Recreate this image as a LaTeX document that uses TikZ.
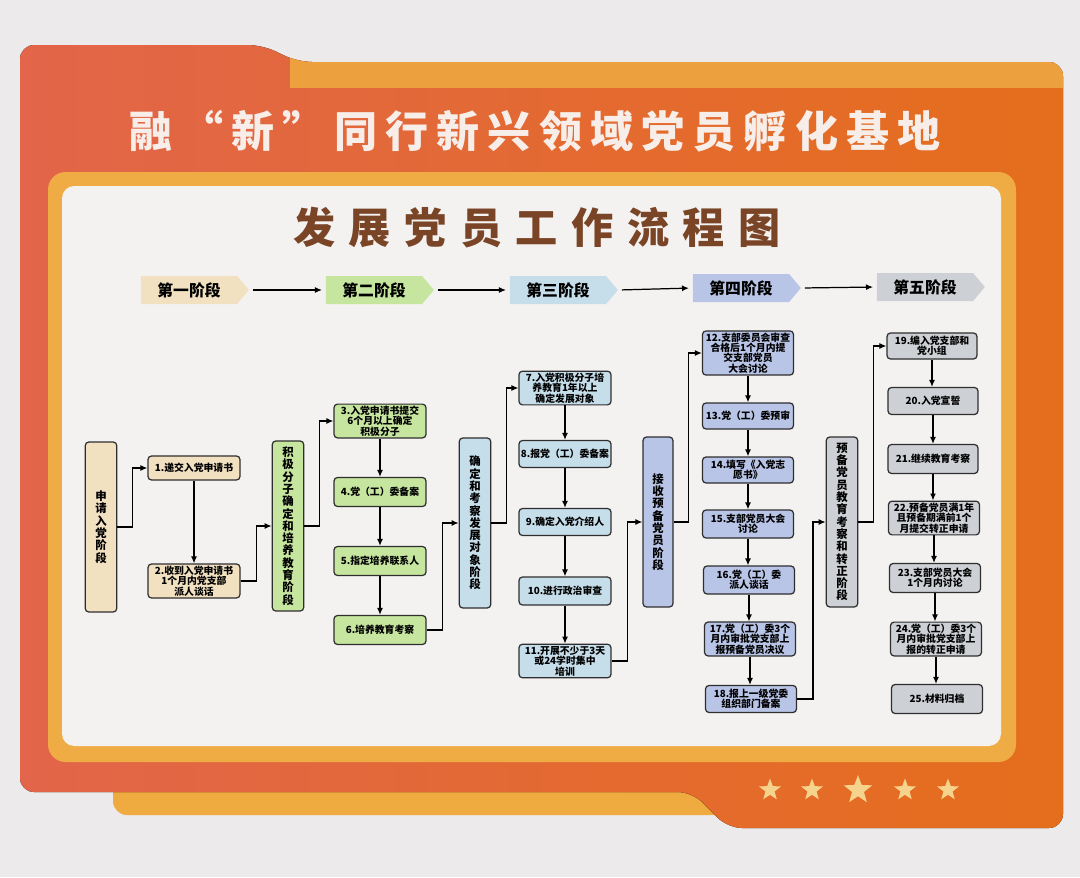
\documentclass[tikz,border=0pt]{standalone}
\usepackage{fontspec}
\setmainfont{Noto Sans CJK SC}
\usetikzlibrary{arrows.meta,shapes.symbols,shapes.geometric}

\definecolor{wall}{HTML}{ECEAEA}
\definecolor{panelL}{HTML}{E3654A}
\definecolor{panelR}{HTML}{E46E1C}
\definecolor{topband}{HTML}{ECA03E}
\definecolor{frameY}{HTML}{F0AC44}
\definecolor{stripY}{HTML}{EFAA40}
\definecolor{board}{HTML}{F4F2F1}
\definecolor{titleW}{HTML}{F7EEEA}
\definecolor{brownT}{HTML}{7A4526}
\definecolor{starY}{HTML}{F6D38C}
\definecolor{boxline}{HTML}{2E2E2E}
\definecolor{fillA}{HTML}{F2E1C1}
\definecolor{fillB}{HTML}{C6E59E}
\definecolor{fillC}{HTML}{C6DDEA}
\definecolor{fillD}{HTML}{B9C5E7}
\definecolor{fillE}{HTML}{CDD0D5}

\tikzset{
  flow/.style={draw=black, line width=0.7pt, -{Latex[length=4pt,width=3.4pt]}},
  stepbox/.style={draw=boxline, line width=0.7pt, rounded corners=2pt, fill=#1,
    font=\bfseries\fontsize{5.6}{5.9}\selectfont, align=center, inner sep=1pt,
    minimum width=1.84cm},
  phasebox/.style={draw=boxline, line width=0.7pt, rounded corners=2pt, fill=#1,
    font=\bfseries\fontsize{6.5}{7}\selectfont, align=center, inner sep=1pt,
    minimum width=0.63cm, minimum height=3.4cm},
  chevron/.style={signal, signal to=east, signal pointer angle=100, fill=#1,
    minimum width=2.16cm, minimum height=0.56cm, inner sep=1pt,
    font=\bfseries\fontsize{9}{9}\selectfont},
  starmark/.style={star, star points=5, star point ratio=2.4, fill=starY, inner sep=0pt}
}

\begin{document}
\begin{tikzpicture}[x=0.02cm, y=-0.02cm]
  \useasboundingbox (0,0) rectangle (1080,877);
  \fill[wall] (0,0) rectangle (1080,877);

  %board frame
  \fill[stripY, rounded corners=8pt] (113,770) -- (700,770) -- (745,815) -- (113,815) -- cycle;
  \fill[left color=panelL, right color=panelR, rounded corners=8pt]
    (20,792) -- (20,45) -- (262,45) -- (298,62) -- (1063,62) -- (1063,828) -- (728,828) -- (692,792) -- cycle;
  \begin{scope}
    \clip[rounded corners=8pt] (20,792) -- (20,45) -- (262,45) -- (298,62) -- (1063,62) -- (1063,828) -- (728,828) -- (692,792) -- cycle;
    \fill[topband] (290,40) rectangle (1070,88);
  \end{scope}
  \fill[frameY, rounded corners=10pt] (48,172) rectangle (1016,762);
  \fill[board, rounded corners=7pt] (62,186) rectangle (1001,746);

  %titles
  \node[text=titleW, font=\bfseries\fontsize{24.5}{24.5}\selectfont\addfontfeature{LetterSpace=19}] (title) at (535,131) {融“新”同行新兴领域党员孵化基地};
  \node[text=brownT, font=\bfseries\fontsize{24}{24}\selectfont\addfontfeature{LetterSpace=32}] (subtitle) at (537,228) {发展党员工作流程图};

  %stage chevrons
  \node[chevron=fillA] (c1) at (189,290) {第一阶段};
  \node[chevron=fillB] (c2) at (374,290) {第二阶段};
  \node[chevron=fillC] (c3) at (558,290) {第三阶段};
  \node[chevron=fillD] (c4) at (741,288) {第四阶段};
  \node[chevron=fillE] (c5) at (925,287) {第五阶段};
  \foreach \a/\b in {c1/c2, c2/c3, c3/c4, c4/c5}
    \draw[flow, shorten <=2pt, shorten >=2pt] (\a.east) -- (\b.west);

  %stage 1
  \node[phasebox=fillA] (s1) at (101,527) {申\\请\\入\\党\\阶\\段};
  \node[stepbox=fillA, minimum height=0.48cm] (b1) at (194,468) {1.递交入党申请书};
  \node[stepbox=fillA, minimum height=0.68cm] (b2) at (194,581) {2.收到入党申请书\\1个月内党支部\\派人谈话};

  %stage 2
  \node[phasebox=fillB] (s2) at (288,526) {积\\极\\分\\子\\确\\定\\和\\培\\养\\教\\育\\阶\\段};
  \node[stepbox=fillB, minimum height=0.62cm] (b3) at (380,421) {3.入党申请书提交\\6个月以上确定\\积极分子};
  \node[stepbox=fillB, minimum height=0.58cm] (b4) at (380,492) {4.党（工）委备案};
  \node[stepbox=fillB, minimum height=0.58cm] (b5) at (380,561) {5.指定培养联系人};
  \node[stepbox=fillB, minimum height=0.58cm] (b6) at (380,630) {6.培养教育考察};

  %stage 3
  \node[phasebox=fillC] (s3) at (475,523) {确\\定\\和\\考\\察\\发\\展\\对\\象\\阶\\段};
  \node[stepbox=fillC, minimum height=0.64cm] (b7) at (565,388) {7.入党积极分子培\\养教育1年以上\\确定发展对象};
  \node[stepbox=fillC, minimum height=0.54cm] (b8) at (565,454) {8.报党（工）委备案};
  \node[stepbox=fillC, minimum height=0.54cm] (b9) at (565,522) {9.确定入党介绍人};
  \node[stepbox=fillC, minimum height=0.56cm] (b10) at (565,591) {10.进行政治审查};
  \node[stepbox=fillC, minimum height=0.64cm] (b11) at (565,661) {11.开展不少于3天\\或24学时集中\\培训};

  %stage 4
  \node[phasebox=fillD, minimum width=0.6cm] (s4) at (658,522) {接\\收\\预\\备\\党\\员\\阶\\段};
  \node[stepbox=fillD, minimum width=1.82cm, minimum height=0.82cm] (b12) at (748,353) {12.支部委员会审查\\合格后1个月内提\\交支部党员\\大会讨论};
  \node[stepbox=fillD, minimum width=1.82cm, minimum height=0.52cm] (b13) at (748,416) {13.党（工）委预审};
  \node[stepbox=fillD, minimum width=1.82cm, minimum height=0.52cm] (b14) at (748,470) {14.填写《入党志\\愿书》};
  \node[stepbox=fillD, minimum width=1.82cm, minimum height=0.56cm] (b15) at (748,524) {15.支部党员大会\\讨论};
  \node[stepbox=fillD, minimum width=1.82cm, minimum height=0.56cm] (b16) at (749,580) {16.党（工）委\\派人谈话};
  \node[stepbox=fillD, minimum width=1.82cm, minimum height=0.66cm] (b17) at (750,639) {17.党（工）委3个\\月内审批党支部上\\报预备党员决议};
  \node[stepbox=fillD, minimum width=1.82cm, minimum height=0.54cm] (b18) at (751,699) {18.报上一级党委\\组织部门备案};

  %stage 5
  \node[phasebox=fillE] (s5) at (842,522) {预\\备\\党\\员\\教\\育\\考\\察\\和\\转\\正\\阶\\段};
  \node[stepbox=fillE, minimum width=1.8cm, minimum height=0.52cm] (b19) at (932,346) {19.编入党支部和\\党小组};
  \node[stepbox=fillE, minimum width=1.8cm, minimum height=0.54cm] (b20) at (933,401) {20.入党宣誓};
  \node[stepbox=fillE, minimum width=1.8cm, minimum height=0.58cm] (b21) at (933,459) {21.继续教育考察};
  \node[stepbox=fillE, minimum width=1.82cm, minimum height=0.66cm] (b22) at (934,518) {22.预备党员满1年\\且预备期满前1个\\月提交转正申请};
  \node[stepbox=fillE, minimum width=1.82cm, minimum height=0.58cm] (b23) at (935,578) {23.支部党员大会\\1个月内讨论};
  \node[stepbox=fillE, minimum width=1.82cm, minimum height=0.66cm] (b24) at (936,639) {24.党（工）委3个\\月内审批党支部上\\报的转正申请};
  \node[stepbox=fillE, minimum width=1.82cm, minimum height=0.58cm] (b25) at (937,699) {25.材料归档};

  %steps inside a stage
  \foreach \a/\b in {b1/b2, b3/b4, b4/b5, b5/b6, b7/b8, b8/b9, b9/b10, b10/b11,
      b12/b13, b13/b14, b14/b15, b15/b16, b16/b17, b17/b18,
      b19/b20, b20/b21, b21/b22, b22/b23, b23/b24, b24/b25}
    \draw[flow] (\a.south) -- (\a.south |- \b.north);

  %stage box to its first step
  \foreach \a/\b in {s1/b1, s2/b3, s3/b7, s4/b12, s5/b19}
    \draw[flow] (\a.east) -- ++(15,0) |- (\b.west);

  %last step to the next stage box
  \foreach \a/\b in {b2/s2, b6/s3, b11/s4, b18/s5}
    \draw[flow] (\a.east) -- ++(16,0) |- (\b.west);

  %stars
  \foreach \sx/\sr [count=\i] in {770/23, 812/23, 858/30, 905/23, 948/23}
    \node[starmark, minimum size=\sr*0.02cm] (star\i) at (\sx,790) {};
\end{tikzpicture}
\end{document}
